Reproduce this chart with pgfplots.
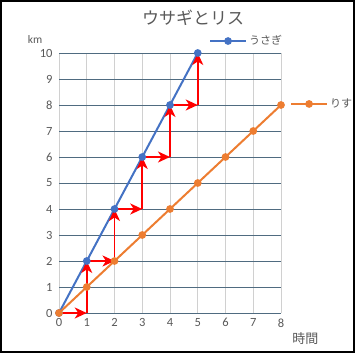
\documentclass[border=0pt]{standalone}
\usepackage{pgfplots}
\pgfplotsset{compat=1.18}
\usepackage{fontspec}
\setmainfont{Carlito}
\newfontfamily\jp{Noto Sans CJK JP}
\usetikzlibrary{arrows.meta}
\definecolor{ublue}{HTML}{4472C4}
\definecolor{rorange}{HTML}{ED7D31}
\definecolor{txtgray}{HTML}{595959}
\definecolor{hgrid}{HTML}{4F6B80}
\definecolor{vgrid}{HTML}{D0D0D0}
\pgfplotsset{
  mylegimg/.style={legend image code/.code={
    \draw[#1,mark repeat=2,mark phase=2] plot coordinates {(0pt,0pt) (18pt,0pt) (36pt,0pt)};}},
}
\begin{document}
\begin{tikzpicture}[x=1pt,y=1pt]
\draw[black,line width=2pt,fill=white] (-58,-39) rectangle (295,312);
\begin{axis}[
  at={(0pt,0pt)}, anchor=south west,
  scale only axis, width=222pt, height=260pt,
  xmin=0, xmax=8, ymin=0, ymax=10,
  xtick={0,...,8}, ytick={0,...,10},
  grid=major,
  x grid style={vgrid, line width=0.8pt},
  y grid style={hgrid, line width=0.8pt},
  axis line style={draw=none},
  major tick length=0pt,
  clip=false,
  /pgf/number format/assume math mode=true,
  tick label style={font=\fontsize{12.5}{14}\selectfont, text=txtgray},
  xticklabel style={yshift=-2pt},
  yticklabel style={xshift=-3pt},
  legend style={draw=none, fill=none, at={(0.675,1.046)}, anchor=west,
    font=\jp\fontsize{11}{13}\selectfont, text=txtgray, inner sep=0pt},
  mylegimg,
]
\addplot[ublue, line width=2pt, mark=*, mark size=2.8pt] coordinates {(0,0)(1,2)(2,4)(3,6)(4,8)(5,10)};
\addlegendentry{うさぎ}
\addplot[rorange, line width=2pt, mark=*, mark size=2.8pt, forget plot] coordinates {(0,0)(1,1)(2,2)(3,3)(4,4)(5,5)(6,6)(7,7)(8,8)};
\foreach \a/\b/\c/\d in {0/0/1/0, 1/0/1/2, 1/2/2/2, 2/2/2/4, 2/4/3/4, 3/4/3/6, 3/6/4/6, 4/6/4/8, 4/8/5/8, 5/8/5/10}{
  \edef\temp{\noexpand\addplot[red, line width=1.6pt, -{Stealth[length=12pt,width=11pt,inset=3.5pt]}, forget plot] coordinates {(\a,\b)(\c,\d)};}
  \temp
}
\node[font=\fontsize{17}{20}\selectfont\jp, text=txtgray] at (rel axis cs:0.604,1.135) {ウサギとリス};
\node[font=\fontsize{11.5}{13}\selectfont, text=txtgray] at (rel axis cs:-0.108,1.05) {km};
\node[font=\fontsize{13}{15}\selectfont\jp, text=txtgray] at (rel axis cs:1.11,-0.10) {時間};
\end{axis}
\begin{axis}[
  at={(0pt,0pt)}, anchor=south west,
  scale only axis, width=222pt, height=260pt,
  xmin=0, xmax=8, ymin=0, ymax=10,
  hide axis,
  legend style={draw=none, fill=none, at={(1.04,0.804)}, anchor=west,
    font=\jp\fontsize{11}{13}\selectfont, text=txtgray, inner sep=0pt},
  mylegimg,
]
\addlegendimage{rorange, line width=2pt, mark=*, mark size=2.8pt}
\addlegendentry{りす}
\end{axis}
\end{tikzpicture}
\end{document}
